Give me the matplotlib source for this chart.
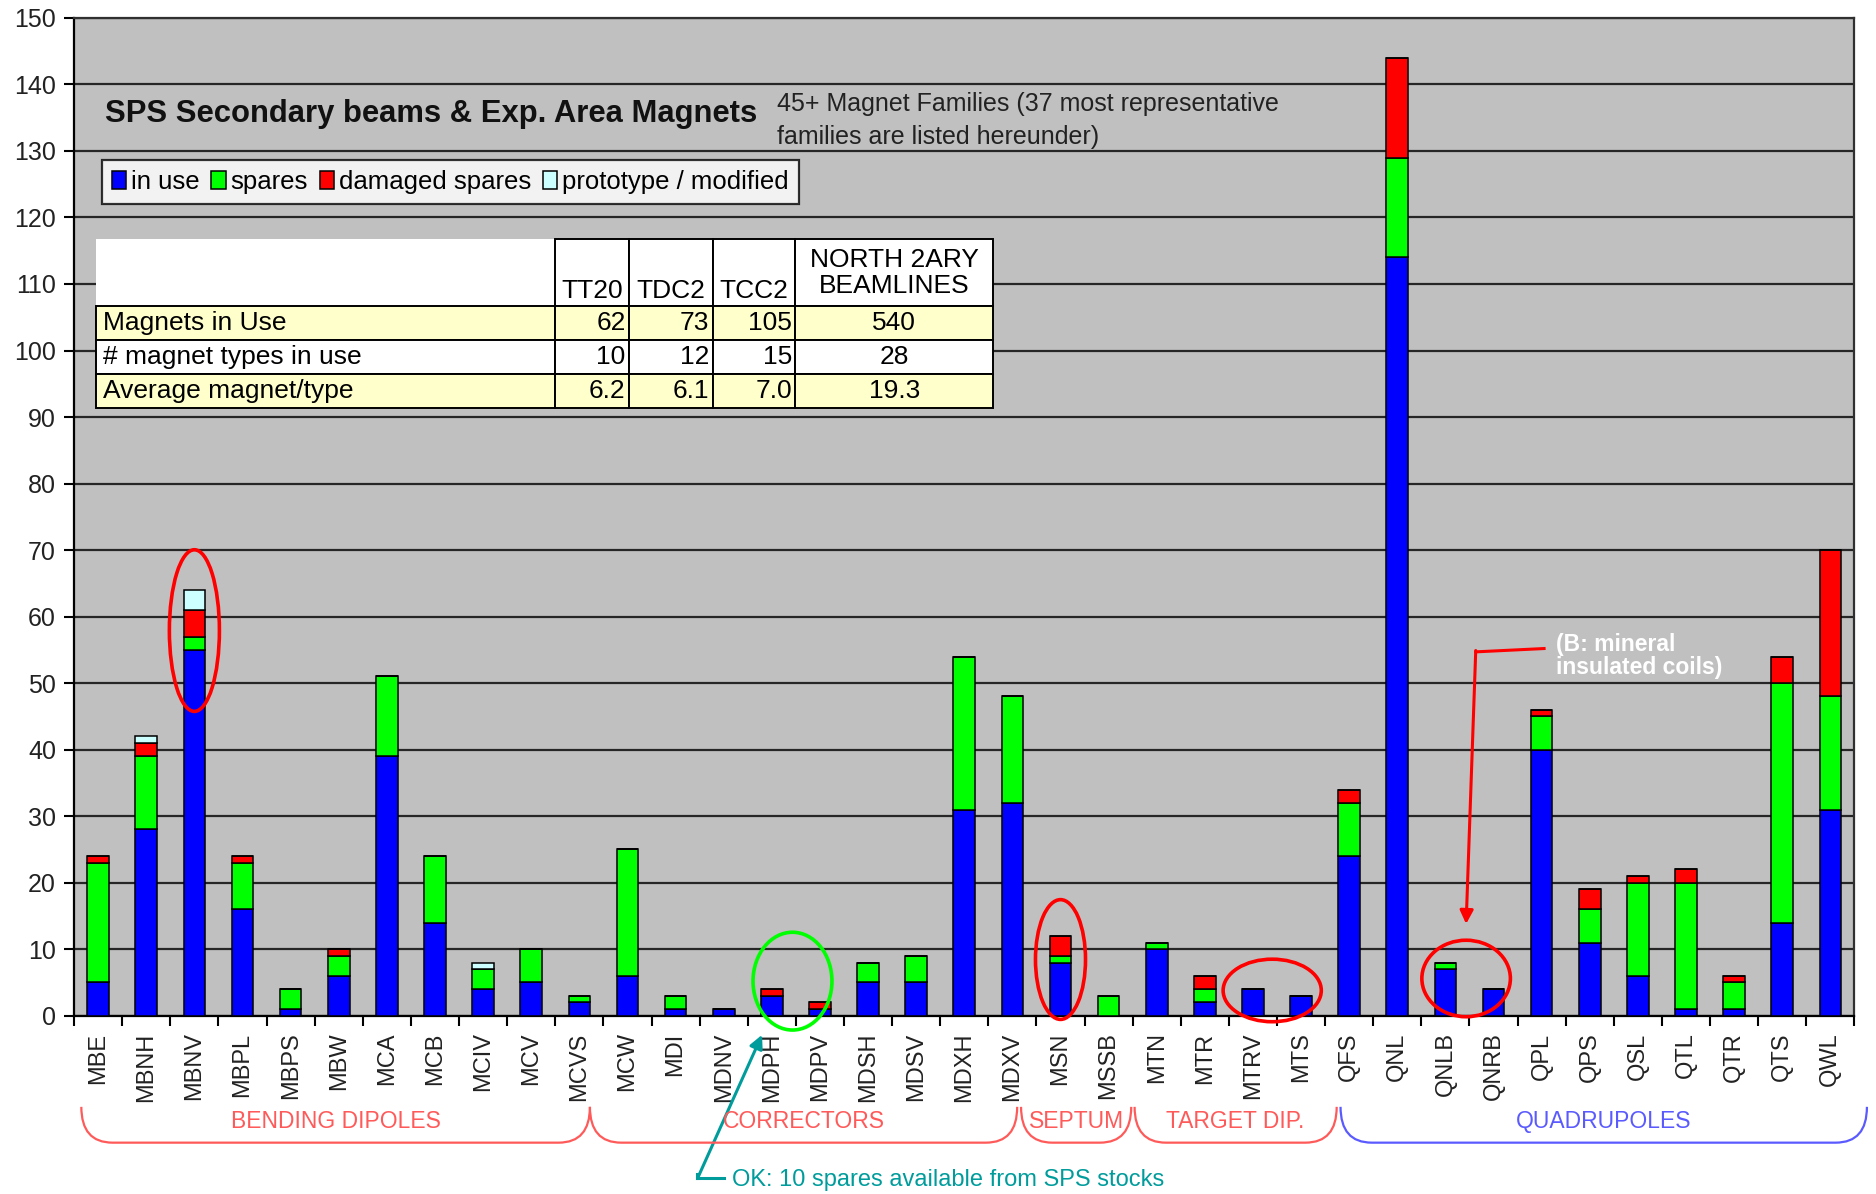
import numpy as np
import matplotlib.pyplot as plt
from matplotlib.patches import Ellipse, Rectangle, PathPatch
from matplotlib.path import Path
from matplotlib.transforms import blended_transform_factory

# magnet families and counts
families = ["MBE", "MBNH", "MBNV", "MBPL", "MBPS", "MBW", "MCA", "MCB", "MCIV", "MCV",
            "MCVS", "MCW", "MDI", "MDNV", "MDPH", "MDPV", "MDSH", "MDSV", "MDXH", "MDXV",
            "MSN", "MSSB", "MTN", "MTR", "MTRV", "MTS", "QFS", "QNL", "QNLB", "QNRB",
            "QPL", "QPS", "QSL", "QTL", "QTR", "QTS", "QWL"]
in_use = [5, 28, 55, 16, 1, 6, 39, 14, 4, 5,
          2, 6, 1, 1, 3, 1, 5, 5, 31, 32,
          8, 0, 10, 2, 4, 3, 24, 114, 7, 4,
          40, 11, 6, 1, 1, 14, 31]
spares = [18, 11, 2, 7, 3, 3, 12, 10, 3, 5,
          1, 19, 2, 0, 0, 0, 3, 4, 23, 16,
          1, 3, 1, 2, 0, 0, 8, 15, 1, 0,
          5, 5, 14, 19, 4, 36, 17]
damaged = [1, 2, 4, 1, 0, 1, 0, 0, 0, 0,
           0, 0, 0, 0, 1, 1, 0, 0, 0, 0,
           3, 0, 0, 2, 0, 0, 2, 15, 0, 0,
           1, 3, 1, 2, 1, 4, 22]
prototype = [0, 1, 3, 0, 0, 0, 0, 0, 1, 0,
             0, 0, 0, 0, 0, 0, 0, 0, 0, 0,
             0, 0, 0, 0, 0, 0, 0, 0, 0, 0,
             0, 0, 0, 0, 0, 0, 0]

series_names = ["in use", "spares", "damaged spares", "prototype / modified"]
series_colors = ["#0000FF", "#00FF00", "#FF0000", "#CCFFFF"]

groups = ["BENDING DIPOLES", "CORRECTORS", "SEPTUM", "TARGET DIP.", "QUADRUPOLES"]
group_colors = ["#FF5A5A", "#FF5A5A", "#FF5A5A", "#FF5A5A", "#5A5AFF"]
brace_edges = [(-0.35, 10.22), (10.22, 19.1), (19.18, 21.47), (21.54, 25.74), (25.82, 36.76)]

table_cols = ["TT20", "TDC2", "TCC2", "NORTH 2ARY\nBEAMLINES"]
table_rows = ["Magnets in Use", "# magnet types in use", "Average magnet/type"]
table_vals = [["62", "73", "105", "540"],
              ["10", "12", "15", "28"],
              ["6.2", "6.1", "7.0", "19.3"]]

plt.rcParams['font.family'] = ['Liberation Sans', 'DejaVu Sans']

fig = plt.figure(figsize=(18.76, 11.94), dpi=100)
ax = fig.add_axes([0.0395, 0.1493, 0.949, 0.8357])
ax.set_facecolor("#C0C0C0")

x = np.arange(len(families))
bottom = np.zeros(len(families))
handles = []
for vals, name, col in zip([in_use, spares, damaged, prototype], series_names, series_colors):
    b = ax.bar(x, vals, 0.45, bottom=bottom, color=col, edgecolor="black",
               linewidth=1.1, label=name, zorder=3)
    handles.append(b)
    bottom += np.array(vals)

ax.set_xlim(-0.5, len(families) - 0.5)
ax.set_ylim(0, 150)
ax.set_yticks(np.arange(0, 151, 10))
ax.yaxis.grid(True, color="#262626", linewidth=1.6, zorder=0)
ax.set_axisbelow(True)
ax.set_xticks(x)
ax.set_xticklabels(families, rotation=90, fontsize=17, color="#222222")
ax.set_xticks(np.arange(-0.5, len(families), 1), minor=True)
ax.tick_params(axis="x", which="major", length=0, pad=12)
ax.tick_params(axis="x", which="minor", length=7, width=1.5, direction="out")
ax.tick_params(axis="y", labelsize=18, length=7, width=1.5, pad=6, labelcolor="#222222")
for s in ["left", "bottom"]:
    ax.spines[s].set_linewidth(1.6)
    ax.spines[s].set_color("black")
for s in ["top", "right"]:
    ax.spines[s].set_linewidth(1.6)
    ax.spines[s].set_color("#303030")

# title and comment
ax.text(0.0175, 0.904, "SPS Secondary beams & Exp. Area Magnets", transform=ax.transAxes,
        fontsize=22.3, fontweight="bold", va="center", ha="left", color="#111111", zorder=6)
ax.text(0.395, 0.897, "45+ Magnet Families (37 most representative\nfamilies are listed hereunder)",
        transform=ax.transAxes, fontsize=18, va="center", ha="left", color="#222222",
        linespacing=1.45, zorder=6)

leg = ax.legend(handles=handles, labels=series_names, ncol=4, loc="upper left",
                bbox_to_anchor=(0.0155, 0.858), frameon=True, fancybox=False,
                edgecolor="black", fontsize=18.5, handlelength=0.55, handleheight=0.75,
                handletextpad=0.2, columnspacing=0.45, borderpad=0.4, borderaxespad=0)
leg.get_frame().set_linewidth(1.6)
leg.set_zorder(7)

# table
tfs = 19
col_x = [0.0121, 0.2702, 0.3118, 0.3589, 0.4052, 0.5161]
row_y = [0.7782, 0.7110, 0.6775, 0.6427, 0.6091]
row_fill = ["#FFFFCC", "#FFFFFF", "#FFFFCC"]
ax.add_patch(Rectangle((col_x[0], row_y[1]), col_x[-1] - col_x[0], row_y[0] - row_y[1],
                       transform=ax.transAxes, facecolor="white", edgecolor="none", zorder=5))
for j, name in enumerate(table_cols):
    ax.add_patch(Rectangle((col_x[j + 1], row_y[1]), col_x[j + 2] - col_x[j + 1], row_y[0] - row_y[1],
                           transform=ax.transAxes, facecolor="white", edgecolor="black",
                           linewidth=1.4, zorder=5))
    if j < 3:
        ax.text((col_x[j + 1] + col_x[j + 2]) / 2, row_y[1] + 0.003, name, transform=ax.transAxes,
                ha="center", va="bottom", fontsize=tfs, zorder=6)
    else:
        ax.text((col_x[j + 1] + col_x[j + 2]) / 2, (row_y[0] + row_y[1]) / 2, name,
                transform=ax.transAxes, ha="center", va="center", fontsize=tfs,
                linespacing=1.1, zorder=6)
for i, label in enumerate(table_rows):
    y0, y1 = row_y[i + 2], row_y[i + 1]
    for j in range(5):
        ax.add_patch(Rectangle((col_x[j], y0), col_x[j + 1] - col_x[j], y1 - y0,
                               transform=ax.transAxes, facecolor=row_fill[i],
                               edgecolor="black", linewidth=1.4, zorder=5))
    ym = (y0 + y1) / 2
    ax.text(col_x[0] + 0.004, ym, label, transform=ax.transAxes, ha="left", va="center",
            fontsize=tfs, zorder=6)
    for j in range(3):
        ax.text(col_x[j + 2] - 0.002, ym, table_vals[i][j], transform=ax.transAxes,
                ha="right", va="center", fontsize=tfs, zorder=6)
    ax.text((col_x[4] + col_x[5]) / 2, ym, table_vals[i][3], transform=ax.transAxes,
            ha="center", va="center", fontsize=tfs, zorder=6)

# highlight ellipses
for cx, cy, w, h, col in [(2, 57.9, 1.04, 24.3, "#FF0000"),
                          (14.43, 5.2, 1.64, 14.7, "#00FF00"),
                          (20, 8.45, 1.04, 18, "#FF0000"),
                          (24.4, 3.8, 2.04, 9.4, "#FF0000"),
                          (28.43, 5.6, 1.84, 11.5, "#FF0000")]:
    ax.add_patch(Ellipse((cx, cy), w, h, fill=False, edgecolor=col, linewidth=2.6,
                         zorder=6, clip_on=False))

# mineral insulated coils note
ax.plot([30.05, 28.63], [55.2, 54.7], color="#FF0000", linewidth=2.2, zorder=6)
ax.annotate("", xy=(28.43, 13.8), xytext=(28.63, 54.9),
            arrowprops=dict(arrowstyle="-|>,head_length=0.8,head_width=0.4",
                            color="#FF0000", lw=2.2, shrinkA=0, shrinkB=0), zorder=6)
ax.text(30.3, 57.6, "(B: mineral\ninsulated coils)", color="white", fontsize=16.5,
        fontweight="bold", ha="left", va="top", linespacing=1.0, zorder=6)

# group braces below the labels
trans = blended_transform_factory(ax.transData, fig.transFigure)
brace_top, brace_bot = 0.073, 0.043
for (x0, x1), name, col in zip(brace_edges, groups, group_colors):
    d = 0.65
    verts = [(x0, brace_top), (x0, brace_bot), (x0 + d, brace_bot),
             (x1 - d, brace_bot), (x1, brace_bot), (x1, brace_top)]
    codes = [Path.MOVETO, Path.CURVE3, Path.CURVE3, Path.LINETO, Path.CURVE3, Path.CURVE3]
    fig.add_artist(PathPatch(Path(verts, codes), transform=trans, fill=False,
                             edgecolor=col, linewidth=1.6))
    fig.text((x0 + x1) / 2, 0.061, name, transform=trans, color=col, fontsize=16.5,
             ha="center", va="center")

# spares note
teal = "#009C9C"
fig.add_artist(plt.Line2D([0.3718, 0.3858], [0.0130, 0.0130], color=teal, linewidth=2.2,
                          transform=fig.transFigure))
fig.add_artist(plt.Line2D([0.3718, 0.3718], [0.0130, 0.0170], color=teal, linewidth=2.2,
                          transform=fig.transFigure))
ax.annotate("", xy=(0.4062, 0.1333), xytext=(0.3718, 0.0130),
            xycoords="figure fraction", textcoords="figure fraction",
            arrowprops=dict(arrowstyle="-|>,head_length=0.8,head_width=0.4",
                            color=teal, lw=2.2, shrinkA=0, shrinkB=0), annotation_clip=False)
fig.text(0.3903, 0.0115, "OK: 10 spares available from SPS stocks", color=teal,
         fontsize=17, ha="left", va="center")

fig.savefig("out.png", dpi=100, facecolor="white")
